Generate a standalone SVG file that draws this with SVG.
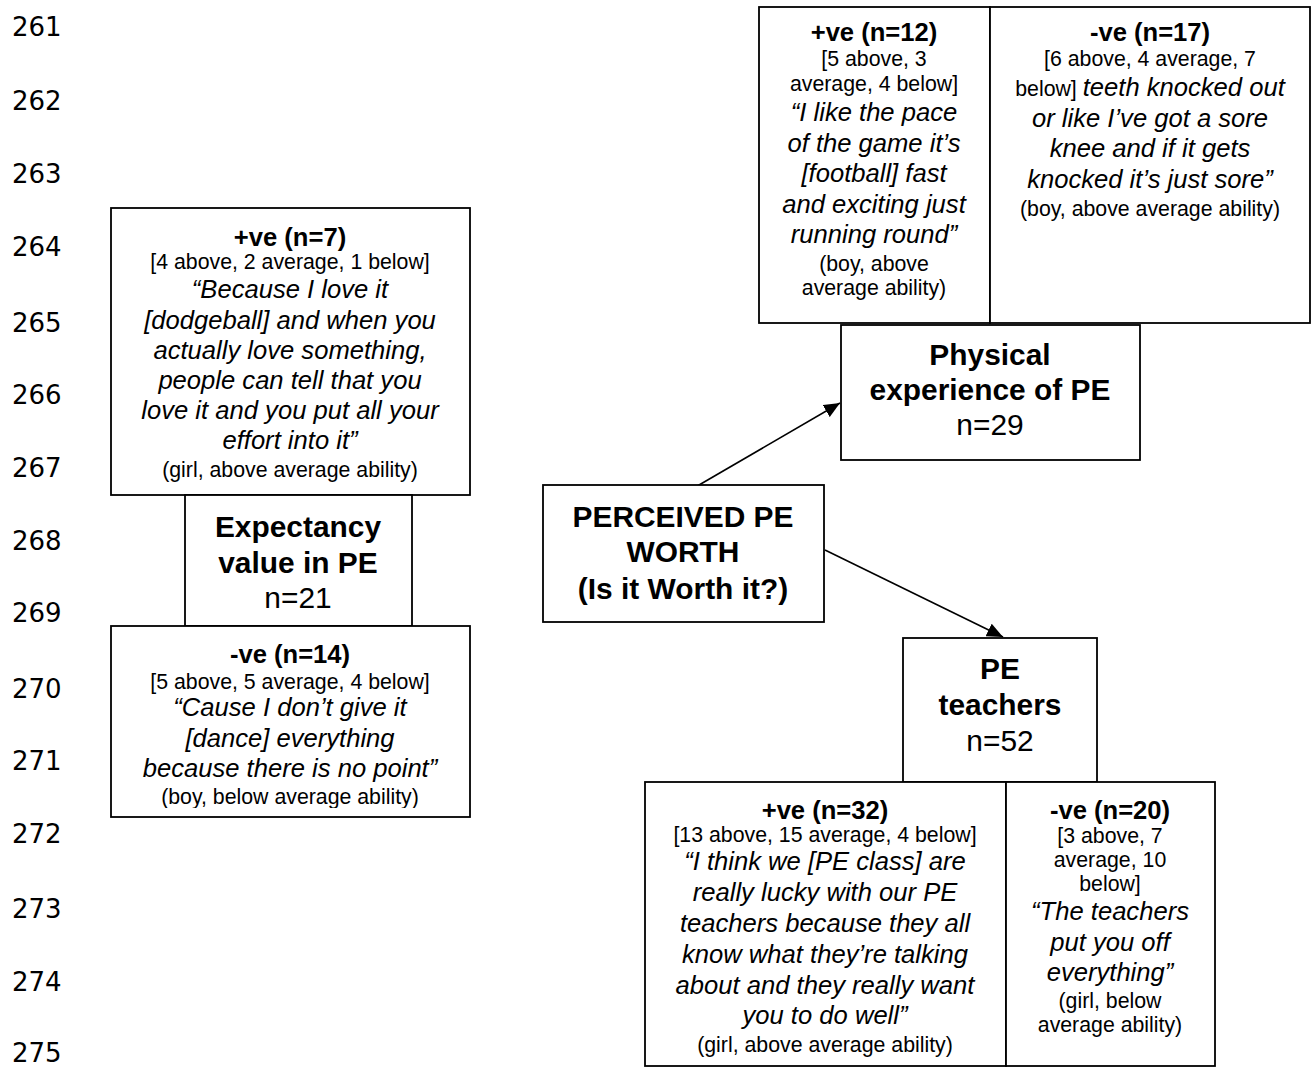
<svg xmlns="http://www.w3.org/2000/svg" width="1313" height="1068" viewBox="0 0 1313 1068">
<style>
.box{fill:#fff;stroke:#000;stroke-width:1.8}
.t{font-family:"Liberation Sans",Arial,sans-serif;text-anchor:middle;fill:#000}
.h{font-size:29.9px;font-weight:bold}
.n{font-size:29.9px}
.b{font-size:25.6px;font-weight:bold}
.s{font-size:21.3px}
.q{font-size:25.6px;font-style:italic}
.ln{font-family:"DejaVu Sans",Verdana,sans-serif;font-size:26px;fill:#000}
.con{stroke:#000;stroke-width:1.6;fill:none}
</style>
<defs>
<marker id="ah" markerUnits="userSpaceOnUse" markerWidth="18" markerHeight="14" refX="16" refY="7" orient="auto">
<path d="M0,0 L16,7 L0,14 Z" fill="#000"/>
</marker>
<clipPath id="clipL"><rect x="111" y="626" width="359" height="182"/></clipPath>
</defs>
<rect width="1313" height="1068" fill="#fff"/>
<g id="line-numbers" class="ln">
<text x="12" y="36">261</text>
<text x="12" y="110">262</text>
<text x="12" y="183">263</text>
<text x="12" y="256">264</text>
<text x="12" y="332">265</text>
<text x="12" y="404">266</text>
<text x="12" y="477">267</text>
<text x="12" y="550">268</text>
<text x="12" y="622">269</text>
<text x="12" y="698">270</text>
<text x="12" y="770">271</text>
<text x="12" y="843">272</text>
<text x="12" y="918">273</text>
<text x="12" y="991">274</text>
<text x="12" y="1062">275</text>
</g>
<g id="connectors">
<line class="con" x1="687" y1="492" x2="840" y2="403" marker-end="url(#ah)"/>
<line class="con" x1="825" y1="550" x2="1003" y2="637" marker-end="url(#ah)"/>
</g>
<g id="exp-pos">
<rect class="box" x="111" y="208" width="359" height="287"/>
<text class="t b" x="290" y="246">+ve (n=7)</text>
<text class="t s" x="290" y="269">[4 above, 2 average, 1 below]</text>
<text class="t q" x="290" y="298">“Because I love it</text>
<text class="t q" x="290" y="329">[dodgeball] and when you</text>
<text class="t q" x="290" y="359">actually love something,</text>
<text class="t q" x="290" y="389">people can tell that you</text>
<text class="t q" x="290" y="419">love it and you put all your</text>
<text class="t q" x="290" y="449">effort into it”</text>
<text class="t s" x="290" y="477">(girl, above average ability)</text>
</g>
<g id="expectancy">
<rect class="box" x="185" y="495" width="227" height="131"/>
<text class="t h" x="298" y="537">Expectancy</text>
<text class="t h" x="298" y="573">value in PE</text>
<text class="t n" x="298" y="608">n=21</text>
</g>
<g id="exp-neg">
<rect class="box" x="111" y="626" width="359" height="191"/>
<g clip-path="url(#clipL)">
<text class="t b" x="290" y="663">-ve (n=14)</text>
<text class="t s" x="290" y="689">[5 above, 5 average, 4 below]</text>
<text class="t q" x="290" y="716">“Cause I don’t give it</text>
<text class="t q" x="290" y="747">[dance] everything</text>
<text class="t q" x="290" y="777">because there is no point”</text>
<text class="t s" x="290" y="804">(boy, below average ability)</text>
</g>
</g>
<g id="perceived-worth">
<rect class="box" x="543" y="485" width="281" height="137"/>
<text class="t h" x="683" y="527">PERCEIVED PE</text>
<text class="t h" x="683" y="562">WORTH</text>
<text class="t h" x="683" y="599">(Is it Worth it?)</text>
</g>
<g id="phys-pos">
<rect class="box" x="759" y="7" width="231" height="316"/>
<text class="t b" x="874" y="41">+ve (n=12)</text>
<text class="t s" x="874" y="66">[5 above, 3</text>
<text class="t s" x="874" y="91">average, 4 below]</text>
<text class="t q" x="874" y="121">“I like the pace</text>
<text class="t q" x="874" y="152">of the game it’s</text>
<text class="t q" x="874" y="182">[football] fast</text>
<text class="t q" x="874" y="213">and exciting just</text>
<text class="t q" x="874" y="243">running round”</text>
<text class="t s" x="874" y="271">(boy, above</text>
<text class="t s" x="874" y="295">average ability)</text>
</g>
<g id="phys-neg">
<rect class="box" x="990" y="7" width="320" height="316"/>
<text class="t b" x="1150" y="41">-ve (n=17)</text>
<text class="t s" x="1150" y="66">[6 above, 4 average, 7</text>
<text class="t" x="1150" y="96"><tspan class="s">below] </tspan><tspan class="q">teeth knocked out</tspan></text>
<text class="t q" x="1150" y="127">or like I’ve got a sore</text>
<text class="t q" x="1150" y="157">knee and if it gets</text>
<text class="t q" x="1150" y="188">knocked it’s just sore”</text>
<text class="t s" x="1150" y="216">(boy, above average ability)</text>
</g>
<g id="physical">
<rect class="box" x="841" y="325" width="299" height="135"/>
<text class="t h" x="990" y="365">Physical</text>
<text class="t h" x="990" y="400">experience of PE</text>
<text class="t n" x="990" y="435">n=29</text>
</g>
<g id="teachers">
<rect class="box" x="903" y="638" width="194" height="144"/>
<text class="t h" x="1000" y="679">PE</text>
<text class="t h" x="1000" y="715">teachers</text>
<text class="t n" x="1000" y="751">n=52</text>
</g>
<g id="teach-pos">
<rect class="box" x="645" y="782" width="361" height="284"/>
<text class="t b" x="825" y="819">+ve (n=32)</text>
<text class="t s" x="825" y="842">[13 above, 15 average, 4 below]</text>
<text class="t q" x="825" y="870">“I think we [PE class] are</text>
<text class="t q" x="825" y="901">really lucky with our PE</text>
<text class="t q" x="825" y="932">teachers because they all</text>
<text class="t q" x="825" y="963">know what they’re talking</text>
<text class="t q" x="825" y="994">about and they really want</text>
<text class="t q" x="825" y="1024">you to do well”</text>
<text class="t s" x="825" y="1052">(girl, above average ability)</text>
</g>
<g id="teach-neg">
<rect class="box" x="1006" y="782" width="209" height="284"/>
<text class="t b" x="1110" y="819">-ve (n=20)</text>
<text class="t s" x="1110" y="843">[3 above, 7</text>
<text class="t s" x="1110" y="867">average, 10</text>
<text class="t s" x="1110" y="891">below]</text>
<text class="t q" x="1110" y="920">“The teachers</text>
<text class="t q" x="1110" y="951">put you off</text>
<text class="t q" x="1110" y="981">everything”</text>
<text class="t s" x="1110" y="1008">(girl, below</text>
<text class="t s" x="1110" y="1032">average ability)</text>
</g>
</svg>
